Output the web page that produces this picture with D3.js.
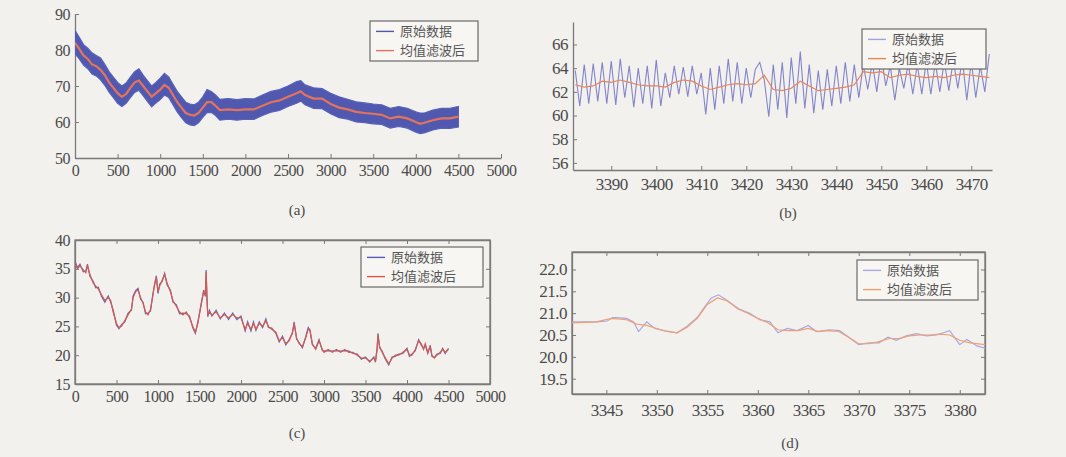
<!DOCTYPE html>
<html>
<head>
<meta charset="utf-8">
<script src="https://cdn.jsdelivr.net/npm/d3@7"></script>
<style>
  body { margin: 0; background: #f2f1ed; }
  svg { display: block; }
</style>
</head>
<body>
<svg id="chart" width="1066" height="457"></svg>
<script>
var legendNames = ['原始数据', '均值滤波后'];

// (a) full series, raw data drawn as its spread [x, low, high], filtered as mean
var bandA = [
  [0,79,85.5],[50,77.5,83.5],[100,75.8,81.5],[150,74.8,80.5],[200,73.3,79.2],[250,72.8,78.5],
  [300,71.7,77.8],[350,70.2,76],[400,68.3,74],[450,66.8,72.5],[500,65.2,71],[550,64.3,70],
  [600,65.2,70.8],[650,66.8,72.5],[700,68.2,74],[750,68.8,74.8],[800,67.3,73],[850,65.7,71.5],
  [900,64.2,70],[950,65.3,71],[1000,66.2,72.2],[1050,67.5,73.5],[1100,66.8,72.5],[1150,64.8,70.5],
  [1200,62.8,68.5],[1250,61.2,67],[1300,59.8,65.5],[1350,59.2,65],[1400,59,64.8],[1450,59.8,65.5],
  [1500,61.3,67],[1550,62.6,69],[1600,62.7,68.5],[1650,61.8,67.5],[1700,60.5,66.3],[1800,60.8,66.5],
  [1900,60.5,66.2],[2000,60.8,66.5],[2100,60.7,66.4],[2200,61.8,67.5],[2300,62.7,68.5],[2400,63.2,69],
  [2500,64.3,70],[2600,65.2,71.2],[2650,65.8,71.5],[2700,64.8,70.3],[2800,63.8,69.5],[2900,63.7,69.3],
  [3000,62.3,68],[3100,61.2,67],[3200,60.8,66.3],[3300,60,65.6],[3400,59.8,65.3],[3500,59.5,65],
  [3600,59.3,64.8],[3700,58.3,63.8],[3800,58.8,64.3],[3900,58.3,63.8],[4000,57.2,62.8],[4050,56.8,62.5],
  [4100,57,62.5],[4200,57.8,63.3],[4300,58.3,63.8],[4400,58.2,63.8],[4500,58.6,64.3]
];
var meanA = [
  [0,82],[50,80.3],[100,78.5],[150,77.5],[200,76],[250,75.5],[300,74.5],[350,73],[400,71],[450,69.5],
  [500,68],[550,67],[600,67.8],[650,69.5],[700,71],[750,71.5],[800,70],[850,68.5],[900,67],[950,68],
  [1000,69],[1050,70.3],[1100,69.5],[1150,67.5],[1200,65.5],[1250,64],[1300,62.5],[1350,62],[1400,61.8],
  [1450,62.5],[1500,64],[1550,65.5],[1600,65.5],[1650,64.5],[1700,63.3],[1800,63.5],[1900,63.3],
  [2000,63.5],[2100,63.5],[2200,64.5],[2300,65.5],[2400,66],[2500,67],[2600,68],[2650,68.5],[2700,67.5],
  [2800,66.5],[2900,66.5],[3000,65],[3100,64],[3200,63.5],[3300,62.8],[3400,62.5],[3500,62.3],[3600,62],
  [3700,61],[3800,61.5],[3900,61],[4000,60],[4050,59.5],[4100,59.8],[4200,60.5],[4300,61],[4400,61],[4500,61.5]
];

// (b) zoom 3382..3474
var xB = d3.range(3382, 3475);
var rawB = [
  63.8,60.8,64.3,61.0,64.4,61.2,64.5,61.0,64.6,60.9,64.8,61.5,64.2,60.7,64.0,61.0,64.2,60.6,64.7,60.8,
  63.6,61.5,64.2,61.8,64.1,61.6,64.2,61.8,63.6,60.1,64.0,60.5,64.2,61.0,64.8,61.2,64.5,61.0,64.0,61.5,
  63.9,64.5,63.0,59.9,64.3,60.5,64.5,59.8,64.9,61.0,65.4,60.6,64.3,60.2,63.8,60.5,63.9,60.8,64.2,61.0,
  64.5,61.2,64.3,61.5,64.3,62.2,64.5,62.0,65.0,62.5,64.2,61.3,64.0,62.3,64.4,61.8,64.3,61.8,64.6,61.8,
  64.5,62.0,64.6,62.1,64.7,62.3,64.8,61.3,64.6,61.5,64.2,62.0,65.2
];
var xMeanB = d3.range(3382, 3475, 2);
var meanB = [
  62.6,62.4,62.5,62.9,62.8,63.0,62.8,62.6,62.5,62.5,62.4,62.8,63.0,62.9,62.5,62.2,62.4,62.6,62.7,62.6,
  62.7,63.4,62.2,62.1,62.3,62.9,62.5,62.1,62.2,62.3,62.4,62.6,63.7,63.6,63.7,63.2,63.4,63.5,63.3,63.2,
  63.3,63.2,63.4,63.5,63.4,63.3,63.2
];

// (c) second full series
var meanC = [
  [0,36],[30,35],[60,35.5],[100,34.8],[130,34.3],[150,35.5],[180,34],[220,32.5],[250,32],[280,31.5],
  [320,30.5],[360,29.5],[400,30],[430,29.5],[460,27.5],[500,25.5],[530,24.8],[560,25],[600,26],[640,27],
  [680,28],[700,30],[730,31],[760,31.3],[790,30],[820,29],[850,27.5],[880,27],[910,28],[940,30.5],
  [960,32.5],[980,33.5],[1000,31],[1020,32],[1050,33],[1080,34],[1110,32.5],[1150,31],[1180,29.5],
  [1220,28.5],[1260,27.5],[1300,27],[1340,27.5],[1380,26.5],[1420,25],[1450,24],[1480,25.5],[1520,29],
  [1550,31],[1570,30.5],[1580,34.5],[1590,30],[1600,27],[1620,27.5],[1650,27],[1700,27.5],[1750,26.5],
  [1800,27],[1850,26.5],[1900,27],[1950,26.5],[2000,26.5],[2050,24.5],[2080,25.5],[2120,24.5],[2150,25.5],
  [2180,24.5],[2220,25.5],[2260,25],[2300,26],[2330,25],[2370,24.5],[2420,24],[2460,22.5],[2500,23],
  [2540,22],[2580,22.5],[2620,24],[2640,25.5],[2670,23],[2700,22],[2740,21.5],[2780,23],[2810,24.5],
  [2830,24.5],[2860,22],[2900,21],[2940,22.5],[2980,21],[3000,20.5],[3050,21],[3100,20.5],[3150,21],
  [3200,20.5],[3250,21],[3300,20.5],[3350,20.5],[3400,20],[3450,19.5],[3500,19.5],[3550,19],[3600,19.5],
  [3620,19],[3640,21],[3650,23.5],[3670,21.5],[3700,20.5],[3740,19.5],[3780,18.5],[3820,19.5],[3860,20],
  [3900,20],[3950,20.5],[4000,21],[4030,20],[4060,20],[4100,21],[4140,22.5],[4170,22],[4200,21],[4220,22],
  [4250,20.5],[4280,21.5],[4300,20],[4330,19.5],[4360,20],[4400,20.5],[4430,21],[4460,20.5],[4500,21]
];
var rawC = [
  [0,36.3],[30,35.2],[60,35.8],[100,34.5],[130,34.6],[150,35.8],[180,33.7],[220,32.8],[250,31.7],[280,31.8],
  [320,30.2],[360,29.2],[400,30.3],[430,29.2],[460,27.8],[500,25.2],[530,24.6],[560,25.3],[600,25.8],[640,27.3],
  [680,27.8],[700,30.3],[730,31.2],[760,31.6],[790,29.7],[820,29.2],[850,27.2],[880,27.3],[910,27.7],[940,30.8],
  [960,32.2],[980,33.8],[1000,30.7],[1020,32.3],[1050,32.8],[1080,34.2],[1110,32.2],[1150,31.3],[1180,29.2],
  [1220,28.8],[1260,27.2],[1300,27.3],[1340,27.2],[1380,26.8],[1420,24.7],[1450,23.8],[1480,25.8],[1520,28.7],
  [1550,31.3],[1570,30.2],[1580,34.8],[1590,29.7],[1600,26.7],[1620,27.8],[1650,26.8],[1700,27.8],[1750,26.3],
  [1800,27.3],[1850,26.2],[1900,27.3],[1950,26.2],[2000,26.8],[2050,24.2],[2080,25.8],[2120,24.2],[2150,25.8],
  [2180,24.3],[2220,25.8],[2260,24.8],[2300,26.3],[2330,24.8],[2370,24.7],[2420,23.8],[2460,22.3],[2500,23.3],
  [2540,21.8],[2580,22.7],[2620,23.8],[2640,25.8],[2670,22.8],[2700,22.2],[2740,21.3],[2780,23.2],[2810,24.8],
  [2830,24.3],[2860,21.8],[2900,21.2],[2940,22.7],[2980,20.8],[3000,20.7],[3050,20.8],[3100,20.7],[3150,20.8],
  [3200,20.7],[3250,20.8],[3300,20.7],[3350,20.3],[3400,20.2],[3450,19.3],[3500,19.7],[3550,18.8],[3600,19.7],
  [3620,18.8],[3640,21.2],[3650,23.8],[3670,21.3],[3700,20.7],[3740,19.3],[3780,18.3],[3820,19.7],[3860,19.8],
  [3900,20.2],[3950,20.3],[4000,21.2],[4030,19.8],[4060,20.2],[4100,20.8],[4140,22.7],[4170,21.8],[4200,21.2],[4220,21.8],
  [4250,20.3],[4280,21.7],[4300,19.8],[4330,19.6],[4360,20.2],[4400,20.3],[4430,21.2],[4460,20.3],[4500,21.2]
];

// (d) zoom 3341..3382
var rawD = [
  [3341.6,20.8],[3344.1,20.8],[3345.1,20.82],[3345.6,20.9],[3346,20.9],[3347,20.88],[3347.7,20.8],[3348.2,20.58],
  [3349,20.8],[3349.8,20.65],[3350.7,20.6],[3352,20.55],[3353,20.7],[3354,20.9],[3354.6,21.1],[3355.4,21.35],
  [3356.1,21.42],[3356.9,21.3],[3358.1,21.1],[3359.2,21.0],[3360.2,20.85],[3361.2,20.8],[3362,20.55],[3362.9,20.65],
  [3363.9,20.6],[3365,20.72],[3365.8,20.58],[3367.1,20.62],[3368.1,20.6],[3369,20.45],[3370,20.28],[3371,20.32],
  [3372,20.32],[3372.9,20.45],[3373.7,20.38],[3374.7,20.48],[3375.7,20.53],[3376.7,20.48],[3377.7,20.5],[3379,20.6],
  [3380,20.28],[3380.7,20.4],[3381.7,20.25],[3382.5,20.2]
];
var meanD = [
  [3341.6,20.78],[3344,20.8],[3345.5,20.88],[3347,20.85],[3348,20.75],[3349,20.72],[3350,20.65],[3351,20.58],
  [3352,20.55],[3353,20.68],[3354,20.88],[3355,21.2],[3356,21.35],[3357,21.28],[3358,21.1],[3359,21.0],
  [3360,20.88],[3361,20.78],[3362,20.62],[3363,20.6],[3364,20.6],[3365,20.65],[3366,20.58],[3367,20.6],
  [3368,20.58],[3369,20.45],[3370,20.3],[3371,20.3],[3372,20.35],[3373,20.42],[3374,20.42],[3375,20.48],
  [3376,20.5],[3377,20.5],[3378,20.52],[3379,20.5],[3380,20.38],[3381,20.32],[3382.5,20.28]
];

var ticksFull = d3.range(0, 5001, 500);
var ticksAY = [50, 60, 70, 80, 90];
var ticksBX = d3.range(3390, 3471, 10);
var ticksBY = [56, 58, 60, 62, 64, 66];
var ticksCY = [15, 20, 25, 30, 35, 40];
var ticksDX = d3.range(3345, 3381, 5);
var ticksDY = [19.5, 20.0, 20.5, 21.0, 21.5, 22.0];

var svg = d3.select('#chart');
var axisCol = '#7a7a7a';
var serif = '"Liberation Serif", "DejaVu Serif", serif';

function makePanel(p) {
  var g = svg.append('g');
  var x = d3.scaleLinear().domain(p.xd).range([p.l, p.r]);
  var y = d3.scaleLinear().domain(p.yd).range([p.b, p.t]);

  if (p.box) {
    g.append('rect').attr('x', p.l).attr('y', p.t).attr('width', p.r - p.l).attr('height', p.b - p.t)
      .attr('fill', 'none').attr('stroke', axisCol).attr('stroke-width', 1.3);
    g.append('g').attr('transform', 'translate(0,' + p.t + ')')
      .call(d3.axisTop(x).tickValues(p.xt).tickSize(-4).tickSizeOuter(0).tickFormat(''));
    g.append('g').attr('transform', 'translate(' + p.r + ',0)')
      .call(d3.axisRight(y).tickValues(p.yt).tickSize(-4).tickSizeOuter(0).tickFormat(''));
  }
  g.append('g').attr('transform', 'translate(0,' + p.b + ')')
    .call(d3.axisBottom(x).tickValues(p.xt).tickSize(-4).tickSizeOuter(0).tickPadding(p.xpad).tickFormat(p.xf || d3.format('d')));
  g.append('g').attr('transform', 'translate(' + p.l + ',0)')
    .call(d3.axisLeft(y).tickValues(p.yt).tickSize(-4).tickSizeOuter(0).tickPadding(5).tickFormat(p.yf || d3.format('d')));
  g.selectAll('.domain').attr('stroke', axisCol).attr('stroke-width', 1.3);
  g.selectAll('.tick line').attr('stroke', axisCol);
  g.selectAll('.tick text')
    .style('font-family', serif).style('font-size', p.fs + 'px').style('fill', '#4a4a4a')
    .style('letter-spacing', '-0.5px');

  var clipId = 'clip' + p.id;
  svg.append('clipPath').attr('id', clipId).append('rect')
    .attr('x', p.l).attr('y', p.t).attr('width', p.r - p.l).attr('height', p.b - p.t);
  var plot = g.append('g').attr('clip-path', 'url(#' + clipId + ')');

  p.draw(plot, x, y);

  // legend
  var lg = g.append('g');
  lg.append('rect').attr('x', p.lx).attr('y', p.ly).attr('width', p.lw).attr('height', p.lh)
    .attr('fill', '#f7f6f3').attr('stroke', '#6a6a6a').attr('stroke-width', 1.2);
  legendNames.forEach(function(name, i) {
    var cy = p.ly + p.lh * (i === 0 ? 0.26 : 0.74);
    lg.append('line').attr('x1', p.lx + 6).attr('x2', p.lx + 24).attr('y1', cy).attr('y2', cy)
      .attr('stroke', p.colors[i]).attr('stroke-width', 1.4);
    lg.append('text').attr('x', p.lx + 30).attr('y', cy + 4.5).text(name)
      .style('font-family', '"Noto Sans CJK SC", sans-serif').style('font-size', '13px').style('fill', '#555');
  });

  g.append('text').attr('x', p.cx).attr('y', p.cy)
    .attr('text-anchor', 'middle').text(p.caption)
    .style('font-family', serif).style('font-size', '15px').style('fill', '#4a4a4a');
}

makePanel({
  id: 'a', l: 75, r: 501, t: 14, b: 158, xd: [0, 5000], yd: [50, 90],
  xt: ticksFull, yt: ticksAY, box: false, fs: 16, xpad: 7,
  lx: 370, ly: 21, lw: 108, lh: 40, colors: ['#5058b0', '#e2745c'],
  cx: 297, cy: 215, caption: '(a)',
  draw: function(plot, x, y) {
    plot.append('path').datum(bandA)
      .attr('d', d3.area().x(d => x(d[0])).y0(d => y(d[1])).y1(d => y(d[2])))
      .attr('fill', '#5058b0').attr('stroke', '#5862b8').attr('stroke-width', 1.2);
    plot.append('path').datum(meanA)
      .attr('d', d3.line().x(d => x(d[0])).y(d => y(d[1])))
      .attr('fill', 'none').attr('stroke', '#e2745c').attr('stroke-width', 2.2);
  }
});

makePanel({
  id: 'b', l: 573, r: 992, t: 22, b: 170, xd: [3381.5, 3474.6], yd: [55.4, 67.9],
  xt: ticksBX, yt: ticksBY, box: false, fs: 17, xpad: 8,
  lx: 862, ly: 29, lw: 124, lh: 40, colors: ['#a4a4dc', '#e8845a'],
  cx: 788, cy: 218, caption: '(b)',
  draw: function(plot, x, y) {
    plot.append('path').datum(rawB)
      .attr('d', d3.line().x((d, i) => x(xB[i])).y(d => y(d)))
      .attr('fill', 'none').attr('stroke', '#8484cc').attr('stroke-width', 1.1);
    plot.append('path').datum(meanB)
      .attr('d', d3.line().x((d, i) => x(xMeanB[i])).y(d => y(d)))
      .attr('fill', 'none').attr('stroke', '#e8845a').attr('stroke-width', 1.2);
  }
});

makePanel({
  id: 'c', l: 75, r: 490, t: 240, b: 384, xd: [0, 5000], yd: [15, 40],
  xt: ticksFull, yt: ticksCY, box: true, fs: 16, xpad: 7,
  lx: 361, ly: 247, lw: 122, lh: 40, colors: ['#5a5ab8', '#d9584c'],
  cx: 297, cy: 438, caption: '(c)',
  draw: function(plot, x, y) {
    plot.append('path').datum(rawC)
      .attr('d', d3.line().x(d => x(d[0])).y(d => y(d[1])))
      .attr('fill', 'none').attr('stroke', '#6a62b4').attr('stroke-width', 1.2);
    plot.append('path').datum(meanC)
      .attr('d', d3.line().x(d => x(d[0])).y(d => y(d[1])))
      .attr('fill', 'none').attr('stroke', '#d45a4c').attr('stroke-width', 1.2);
  }
});

makePanel({
  id: 'd', l: 572, r: 985, t: 252, b: 394, xd: [3341.6, 3382.5], yd: [19.15, 22.4],
  xt: ticksDX, yt: ticksDY, box: true, yf: d3.format('.1f'), fs: 17, xpad: 10,
  lx: 857, ly: 260, lw: 121, lh: 40, colors: ['#a8a8e4', '#f0a072'],
  cx: 790, cy: 448, caption: '(d)',
  draw: function(plot, x, y) {
    plot.append('path').datum(rawD)
      .attr('d', d3.line().x(d => x(d[0])).y(d => y(d[1])))
      .attr('fill', 'none').attr('stroke', '#a8a8e4').attr('stroke-width', 1.2);
    plot.append('path').datum(meanD)
      .attr('d', d3.line().x(d => x(d[0])).y(d => y(d[1])))
      .attr('fill', 'none').attr('stroke', '#f0a072').attr('stroke-width', 1.2);
  }
});
</script>
</body>
</html>
